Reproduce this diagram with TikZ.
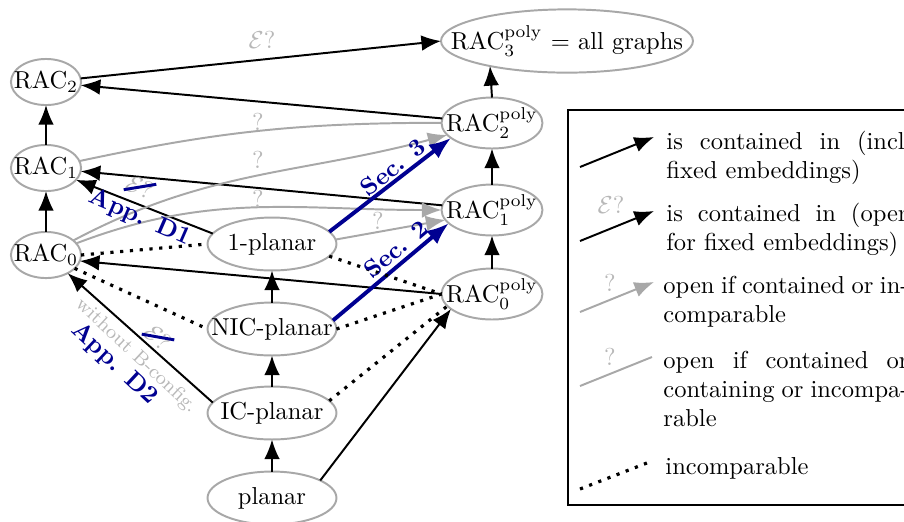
\documentclass[tikz,border=0pt]{standalone}
\usetikzlibrary{arrows.meta,shapes.geometric}
\definecolor{egray}{gray}{0.66}
\definecolor{lgray}{gray}{0.72}
\definecolor{nblue}{rgb}{0,0,0.57}
\newcommand{\nlab}[1]{\makebox[0pt]{#1}}
\newcommand{\Eq}{$\mathcal{E}?$}
\begin{document}
\begin{tikzpicture}[x=0.408pt,y=0.408pt,
  cls/.style={ellipse, draw=egray, line width=0.8pt, inner sep=0pt, outer sep=0pt},
  racn/.style={cls, minimum width=28.6pt, minimum height=18.8pt},
  midn/.style={cls, minimum width=52.6pt, minimum height=21.6pt},
  polyn/.style={cls, minimum width=41.2pt, minimum height=20.8pt},
  topn/.style={cls, minimum width=102.8pt, minimum height=25.8pt},
  arr/.style={-{Latex[length=8pt,width=6.4pt]}, line width=0.8pt},
  garr/.style={arr, draw=egray},
  gline/.style={line width=0.8pt, draw=egray},
  barr/.style={-{Latex[length=9pt,width=7pt]}, line width=1.6pt, draw=nblue},
  incomp/.style={line width=1.3pt, dash pattern=on 1.3pt off 2.7pt},
  qlab/.style={text=lgray, inner sep=0pt},
  blab/.style={text=nblue, font=\bfseries, inner sep=0pt},
  wlab/.style={text=lgray, font=\footnotesize, inner sep=0pt},
  legtext/.style={anchor=base west, inner sep=0pt},
  strike/.style={draw=nblue, line width=1.2pt},
]
\useasboundingbox (0,0) rectangle (904,-521);

% nodes
\node[racn] (r2) at (46,-82) {\nlab{RAC$_2$}};
\node[racn] (r1) at (46,-168) {\nlab{RAC$_1$}};
\node[racn] (r0) at (46,-255) {\nlab{RAC$_0$}};
\node[midn] (p1) at (272,-244) {\nlab{1-planar}};
\node[midn] (nic) at (272,-329) {\nlab{NIC-planar}};
\node[midn] (ic) at (272,-413) {\nlab{IC-planar}};
\node[midn] (pl) at (272,-498) {\nlab{planar}};
\node[topn] (q3) at (567,-41) {\nlab{RAC$^{\mathrm{poly}}_3$ $=$ all graphs}};
\node[polyn] (q2) at (492,-123) {\nlab{RAC$^{\mathrm{poly}}_2$}};
\node[polyn] (q1) at (492,-210) {\nlab{RAC$^{\mathrm{poly}}_1$}};
\node[polyn] (q0) at (492,-294) {\nlab{RAC$^{\mathrm{poly}}_0$}};

% vertical containments
\draw[arr] (r0) -- (r1);
\draw[arr] (r1) -- (r2);
\draw[arr] (pl) -- (ic);
\draw[arr] (ic) -- (nic);
\draw[arr] (nic) -- (p1);
\draw[arr] (q0) -- (q1);
\draw[arr] (q1) -- (q2);
\draw[arr] (q2.north) -- (q3.198);

% black containments
\draw[arr] (r2) -- (q3.west);
\draw[arr] (q2) -- (r2);
\draw[arr] (q1) -- (r1);
\draw[arr] (q0.west) -- (r0.-10);
\draw[arr] (p1.170) -- (r1);
\draw[arr] (ic.170) -- (r0.-40);
\draw[arr] (pl.20) -- (q0.200);

% gray open relations
\draw[gline] (r1) to[bend left=6] (q2);
\draw[garr] (r0) to[out=28,in=195] (q2);
\draw[garr] (r0) to[out=21,in=180] (q1);
\draw[garr] (p1.4) -- (q1.192);

% blue results
\draw[barr] (p1.12) -- (q2.200);
\draw[barr] (nic.8) -- (q1.197);

% incomparable
\draw[incomp] (r0.east) -- (p1.west);
\draw[incomp] (r0.-25) -- (nic.west);
\draw[incomp] (p1.-12) -- (q0.west);
\draw[incomp] (nic.east) -- (q0.west);
\draw[incomp] (ic.12) -- (q0.195);

% labels
\node[qlab] (lE) at (262,-40) {\Eq};
\node[qlab] (lq1) at (258,-122) {?};
\node[qlab] (lq2) at (258,-160) {?};
\node[qlab] (lq3) at (258,-199) {?};
\node[qlab] (lq4) at (378,-221) {?};
\node[blab, rotate=38.8] (ls3) at (393,-167) {Sec. 3};
\node[blab, rotate=40] (ls2) at (396,-249) {Sec. 2};
\node[blab, rotate=-23.6] (ld1) at (140,-218) {App. D1};
\node[qlab, rotate=-23.6] (x1) at (140,-187) {\Eq};
\draw[strike] (x1.south west) -- (x1.north east);
\node[blab, rotate=-43] (ld2) at (114,-364) {App. D2};
\node[wlab, rotate=-43] (lw) at (136,-356) {without B-config.};
\node[qlab, rotate=-43] (x2) at (158,-337) {\Eq};
\draw[strike] (x2.south west) -- (x2.north east);

% legend
\draw[line width=0.8pt] (568,-110) rectangle (945,-505);
\coordinate (a1s) at (580,-167); \coordinate (a1e) at (654,-137);
\draw[arr] (a1s) -- (a1e);
\node[legtext] (t1) at (666,-149) {\parbox[t]{100pt}{is contained in (incl.\ fixed embeddings)}};
\coordinate (a2s) at (580,-241); \coordinate (a2e) at (654,-211);
\draw[arr] (a2s) -- (a2e);
\node[qlab] (e2) at (611,-205) {\Eq};
\node[legtext] (t2) at (666,-221) {\parbox[t]{100pt}{is contained in (open for fixed embeddings)}};
\coordinate (a3s) at (580,-312); \coordinate (a3e) at (654,-282);
\draw[garr] (a3s) -- (a3e);
\node[qlab] (e3) at (610,-283) {?};
\node[legtext] (t3) at (663,-293) {\parbox[t]{100pt}{open if contained or in\-com\-pa\-ra\-ble}};
\coordinate (a4s) at (580,-386); \coordinate (a4e) at (652,-357);
\draw[gline] (a4s) -- (a4e);
\node[qlab] (e4) at (610,-357) {?};
\node[legtext] (t4) at (663,-368) {\parbox[t]{100pt}{open if contained or containing or in\-com\-pa\-ra\-ble}};
\coordinate (a5s) at (580,-489); \coordinate (a5e) at (652,-461);
\draw[incomp] (a5s) -- (a5e);
\node[legtext] (t5) at (665,-474) {incomparable};
\end{tikzpicture}
\end{document}
